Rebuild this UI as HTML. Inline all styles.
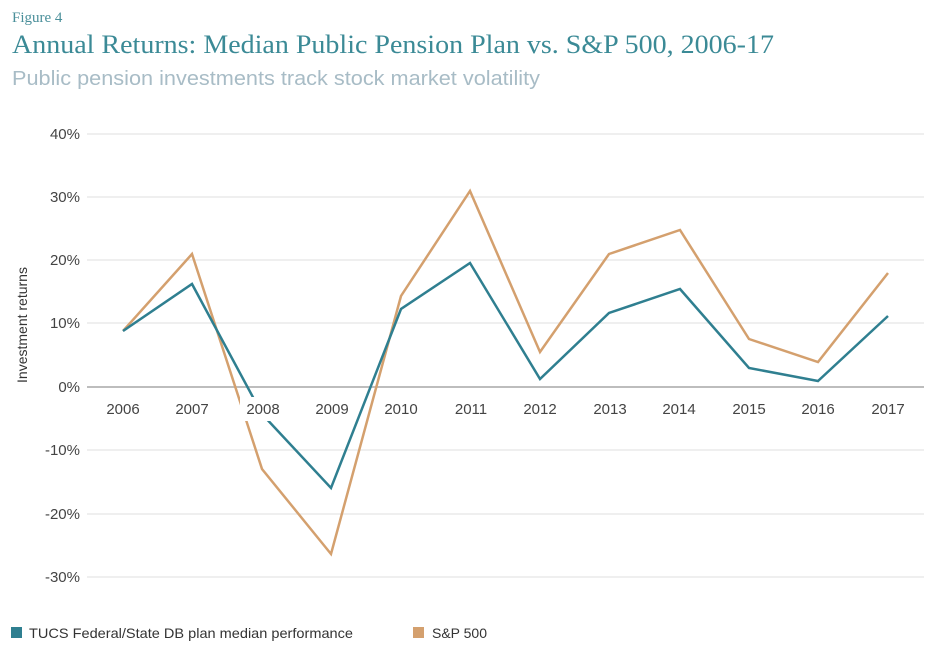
<!DOCTYPE html>
<html><head><meta charset="utf-8"><style>
body{margin:0;background:#fff;width:940px;height:653px;overflow:hidden}
svg{display:block}
</style></head><body>
<svg width="940" height="653" viewBox="0 0 940 653" xmlns="http://www.w3.org/2000/svg" font-family="Liberation Sans, sans-serif">
<text x="12" y="22" font-family="Liberation Serif, serif" font-size="15" fill="#4a8f9a">Figure 4</text>
<text x="12" y="53" font-family="Liberation Serif, serif" font-size="26" fill="#3b8a96" textLength="762" lengthAdjust="spacingAndGlyphs">Annual Returns: Median Public Pension Plan vs. S&amp;P 500, 2006-17</text>
<text x="12" y="85" font-size="20" fill="#a8bcc6" textLength="528" lengthAdjust="spacingAndGlyphs">Public pension investments track stock market volatility</text>
<g stroke="#e5e5e5" stroke-width="1.2">
<line x1="87" x2="924" y1="134" y2="134"/><line x1="87" x2="924" y1="197" y2="197"/>
<line x1="87" x2="924" y1="260" y2="260"/><line x1="87" x2="924" y1="323" y2="323"/>
<line x1="87" x2="924" y1="450" y2="450"/><line x1="87" x2="924" y1="514" y2="514"/>
<line x1="87" x2="924" y1="577" y2="577"/>
</g>
<line x1="87" x2="924" y1="387" y2="387" stroke="#bdbdbd" stroke-width="2"/>
<g font-size="15" fill="#444" text-anchor="end">
<text x="80" y="139">40%</text><text x="80" y="202">30%</text><text x="80" y="265">20%</text>
<text x="80" y="328">10%</text><text x="80" y="392">0%</text><text x="80" y="455">-10%</text>
<text x="80" y="519">-20%</text><text x="80" y="582">-30%</text>
</g>
<text transform="translate(27,325) rotate(-90)" font-size="14" fill="#333" text-anchor="middle">Investment returns</text>
<polyline fill="none" stroke="#d4a06e" stroke-width="2.5" points="123,331 192,254 262,469 331,554 401,296 470,191 540,352 609,254 680,230 749,339 818,362 888,273"/>
<polyline fill="none" stroke="#2f7f90" stroke-width="2.5" points="123,331 192,284 262,414 331,488 401,309 470,263 540,379 609,313 680,289 749,368 818,381 888,316"/>
<g font-size="15" fill="#444" text-anchor="middle">
<rect x="240" y="397" width="46" height="24" fill="#fff"/>
<text x="123" y="414">2006</text><text x="192" y="414">2007</text><text x="263" y="414">2008</text>
<text x="332" y="414">2009</text><text x="401" y="414">2010</text><text x="471" y="414">2011</text>
<text x="540" y="414">2012</text><text x="610" y="414">2013</text><text x="679" y="414">2014</text>
<text x="749" y="414">2015</text><text x="818" y="414">2016</text><text x="888" y="414">2017</text>
</g>
<rect x="11" y="627" width="11" height="11" fill="#2f7f90"/>
<text x="29" y="638" font-size="14" fill="#333" textLength="324" lengthAdjust="spacingAndGlyphs">TUCS Federal/State DB plan median performance</text>
<rect x="413" y="627" width="11" height="11" fill="#d4a06e"/>
<text x="432" y="638" font-size="14" fill="#333">S&amp;P 500</text>
</svg>
</body></html>
